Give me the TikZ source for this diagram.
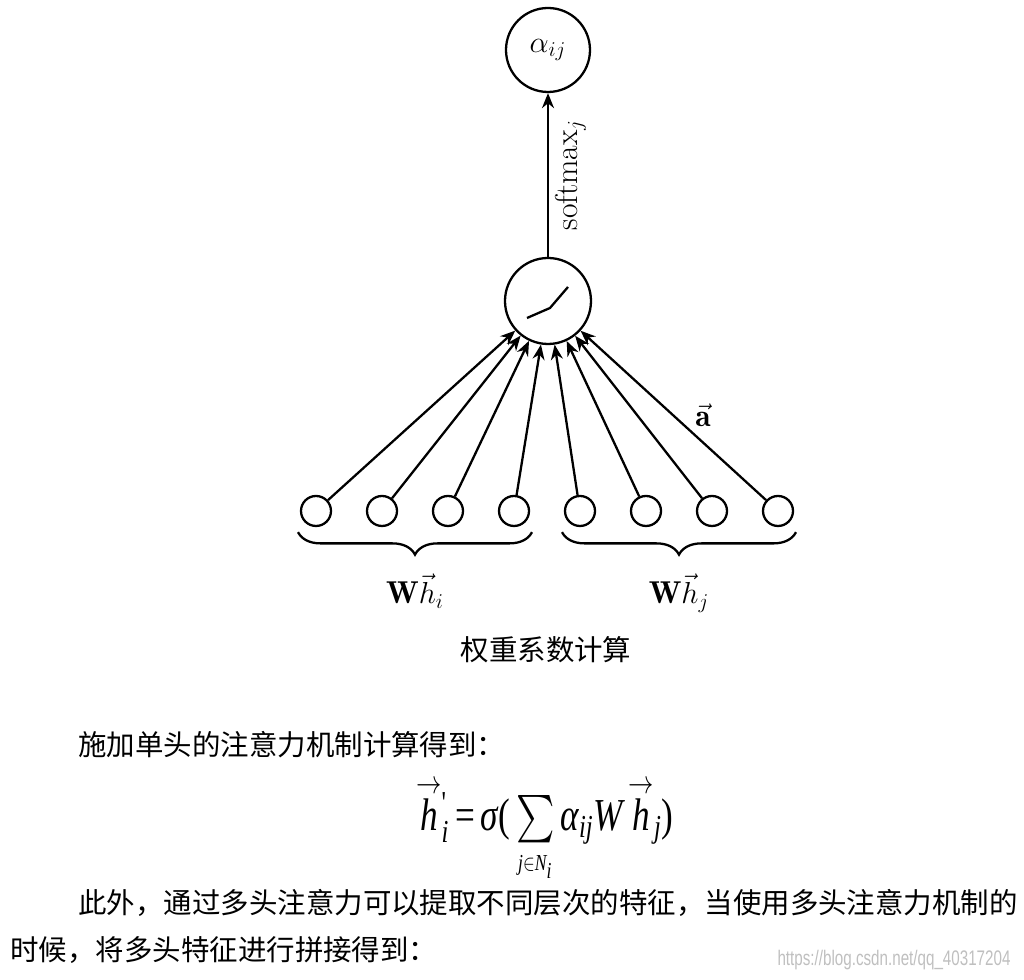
\documentclass[tikz,border=0pt]{standalone}
\usepackage{amsmath}
\usepackage{fontspec}
\newfontfamily\cjk{Noto Sans CJK SC}
\newfontfamily\tms{Liberation Serif}
\newfontfamily\wmfont{Liberation Sans}
\usetikzlibrary{arrows.meta,decorations.pathreplacing}
\newcommand{\ti}[1]{\text{\tms\itshape #1}}
\newcommand{\harr}[1]{\overset{\raisebox{-1.1ex}{$\scriptstyle\rightarrow$}}{#1}}

\begin{document}
\begin{tikzpicture}[
    neuron/.style={draw, circle, line width=1.3pt, inner sep=0pt},
    link/.style={line width=1.3pt, -{Stealth[length=3mm,width=2.4mm]}},
    brace/.style={decorate, decoration={brace, mirror, amplitude=4.5mm}, line width=1.3pt},
    body/.style={font=\cjk\fontsize{16.2}{20}\selectfont, anchor=west, inner sep=0pt},
    font=\fontsize{18}{22}\selectfont
]
    \useasboundingbox (0,0) rectangle (20.48,19.6);

    % Neurons
    \node[neuron, minimum size=1.68cm] (alpha) at (10.96,18.6) {$\alpha_{ij}$};
    \node[neuron, minimum size=1.72cm] (act) at (10.96,13.58) {};
    \draw[line width=1.3pt] ([shift={(-0.42,-0.34)}]act.center) -- ++(0.46,0.2) -- ++(0.36,0.42);

    \foreach \i in {1,...,8}
        \node[neuron, minimum size=0.6cm] (h\i) at ({6.32+1.32*(\i-1)},9.38) {};

    % Connections
    \foreach \i in {1,...,7}
        \draw[link] (h\i) -- (act);
    \draw[link] (h8) -- (act) node[midway, right=3mm] {$\vec{\mathbf{a}}$};
    \draw[link] (act) -- (alpha) node[midway, sloped, below] {$\mathrm{softmax}_j$};

    % Braces
    \draw[brace] ([xshift=-0.36cm, yshift=-1mm]h1.south) -- ([xshift=0.36cm, yshift=-1mm]h4.south)
        node[midway, below=7mm] (whi) {$\mathbf{W}\vec{h}_i$};
    \draw[brace] ([xshift=-0.36cm, yshift=-1mm]h5.south) -- ([xshift=0.36cm, yshift=-1mm]h8.south)
        node[midway, below=7mm] (whj) {$\mathbf{W}\vec{h}_j$};

    \node[font=\cjk\fontsize{16.2}{20}\selectfont] (caption) at (10.92,6.6) {权重系数计算};

    % Text below
    \node[body] (line1) at (1.56,4.7) {施加单头的注意力机制计算得到：};
    \node[font=\fontsize{20}{24}\selectfont] (eq) at (10.9,3.1)
        {\scalebox{1}[1.3]{$\smash[t]{\harr{\ti{h}}}_{\ti{i}}^{\text{\tms '}}\text{\tms\,=\,}\ti{σ}\text{\tms (}\sum\limits_{\makebox[0pt]{$\scriptscriptstyle\ti{j}\in\ti{N}_{\ti{i}}$}}\ti{α}_{\ti{ij}}\ti{W}\,\harr{\ti{h}}_{\ti{j}}\text{\tms )}$}};
    \node[body] (line2) at (1.56,1.54) {此外，通过多头注意力可以提取不同层次的特征，当使用多头注意力机制的};
    \node[body] (line3) at (0.2,0.6) {时候，将多头特征进行拼接得到：};

    \node[font=\wmfont\fontsize{12}{14}\selectfont, text=gray!50, anchor=east, xscale=0.72] (mark) at (20.3,0.4) {https://blog.csdn.net/qq\_40317204};
\end{tikzpicture}
\end{document}
